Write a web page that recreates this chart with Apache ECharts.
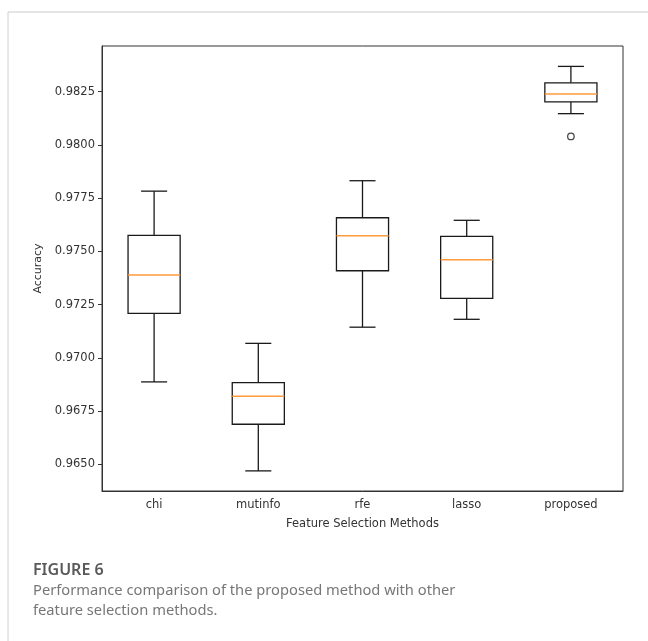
<!DOCTYPE html>
<html>
<head>
<meta charset="utf-8">
<script src="https://cdn.jsdelivr.net/npm/echarts@6/dist/echarts.min.js"></script>
<style>
  html, body { margin: 0; padding: 0; background: #fff; }
  #main { width: 648px; height: 641px; }
</style>
</head>
<body>
<div id="main"></div>
<script>
// categories and box values
var methods = ['chi', 'mutinfo', 'rfe', 'lasso', 'proposed'];
// [lower whisker, q1, median, q3, upper whisker]
var boxStats = [
  [0.96887, 0.97209, 0.97389, 0.97575, 0.97783],
  [0.96469, 0.96688, 0.96820, 0.96884, 0.97068],
  [0.97144, 0.97409, 0.97573, 0.97658, 0.97832],
  [0.97181, 0.97279, 0.97461, 0.97571, 0.97646],
  [0.98147, 0.98202, 0.98239, 0.98292, 0.98369]
];
var outliers = [[4, 0.98040]];
var yTicks = [0.9650, 0.9675, 0.9700, 0.9725, 0.9750, 0.9775, 0.9800, 0.9825];

var chart = echarts.init(document.getElementById('main'));

var boxData = boxStats.map(function (s, i) { return [i].concat(s); });

function renderBox(params, api) {
  var idx = api.value(0);
  var lo = api.coord([idx, api.value(1)]);
  var q1 = api.coord([idx, api.value(2)]);
  var md = api.coord([idx, api.value(3)]);
  var q3 = api.coord([idx, api.value(4)]);
  var hi = api.coord([idx, api.value(5)]);
  var cx = lo[0];
  var bw = api.size([1, 0])[0] * 0.5;
  var cw = bw * 0.5;
  var line = { stroke: '#1a1a1a', lineWidth: 1.3, fill: null };
  return {
    type: 'group',
    children: [
      { type: 'line', shape: { x1: cx, y1: q1[1], x2: cx, y2: lo[1] }, style: line },
      { type: 'line', shape: { x1: cx, y1: q3[1], x2: cx, y2: hi[1] }, style: line },
      { type: 'line', shape: { x1: cx - cw / 2, y1: lo[1], x2: cx + cw / 2, y2: lo[1] }, style: line },
      { type: 'line', shape: { x1: cx - cw / 2, y1: hi[1], x2: cx + cw / 2, y2: hi[1] }, style: line },
      { type: 'rect', shape: { x: cx - bw / 2, y: q3[1], width: bw, height: q1[1] - q3[1] },
        style: { stroke: '#1a1a1a', lineWidth: 1.3, fill: 'none' } },
      { type: 'line', shape: { x1: cx - bw / 2, y1: md[1], x2: cx + bw / 2, y2: md[1] },
        style: { stroke: '#ff9a3c', lineWidth: 1.5 } }
    ]
  };
}

var option = {
  backgroundColor: '#fff',
  animation: false,
  grid: {
    left: 102, right: 25, top: 46, bottom: 150,
    show: true, borderColor: '#333', borderWidth: 1
  },
  xAxis: {
    type: 'category',
    data: methods,
    boundaryGap: true,
    name: 'Feature Selection Methods',
    nameLocation: 'middle',
    nameGap: 27,
    nameTextStyle: { fontSize: 11.5, color: '#333', fontFamily: 'DejaVu Sans' },
    axisLine: { lineStyle: { color: '#333', width: 1 } },
    axisTick: { alignWithLabel: true, length: 4, lineStyle: { color: '#333' } },
    axisLabel: { fontSize: 11.5, color: '#333', margin: 8, fontFamily: 'DejaVu Sans' },
    splitLine: { show: false }
  },
  yAxis: {
    type: 'value',
    min: 0.963745,
    max: 0.984648,
    name: 'Accuracy',
    nameLocation: 'middle',
    nameGap: 52,
    nameTextStyle: { fontSize: 11, color: '#333', fontFamily: 'DejaVu Sans' },
    axisLine: { show: true, lineStyle: { color: '#333', width: 1 } },
    axisTick: { show: true, length: 4, customValues: yTicks, lineStyle: { color: '#333' } },
    axisLabel: {
      fontSize: 11.5, color: '#333', margin: 7, customValues: yTicks, fontFamily: 'DejaVu Sans',
      formatter: function (v) { return v.toFixed(4); }
    },
    splitLine: { show: false }
  },
  series: [
    {
      type: 'custom',
      renderItem: renderBox,
      encode: { x: 0, y: [1, 2, 3, 4, 5] },
      data: boxData
    },
    {
      type: 'scatter',
      symbol: 'circle',
      symbolSize: 6.5,
      itemStyle: { color: 'rgba(255,255,255,0)', borderColor: '#1a1a1a', borderWidth: 1.3 },
      data: outliers
    }
  ],
  graphic: [
    { type: 'line', shape: { x1: 8, y1: 12, x2: 648, y2: 12 }, style: { stroke: '#dcdcdc', lineWidth: 1.5 } },
    { type: 'line', shape: { x1: 8, y1: 12, x2: 8, y2: 641 }, style: { stroke: '#d0d0d0', lineWidth: 1 } },
    { type: 'text', left: 33, top: 562,
      style: { text: 'FIGURE 6', fontSize: 16, fontWeight: 600, fill: '#595959', fontFamily: 'Noto Sans' } },
    { type: 'text', left: 33, top: 583,
      style: { text: 'Performance comparison of the proposed method with other', fontSize: 14.7, fill: '#777', fontFamily: 'Noto Sans' } },
    { type: 'text', left: 33, top: 603,
      style: { text: 'feature selection methods.', fontSize: 14.7, fill: '#777', fontFamily: 'Noto Sans' } }
  ]
};

chart.setOption(option);
</script>
</body>
</html>
